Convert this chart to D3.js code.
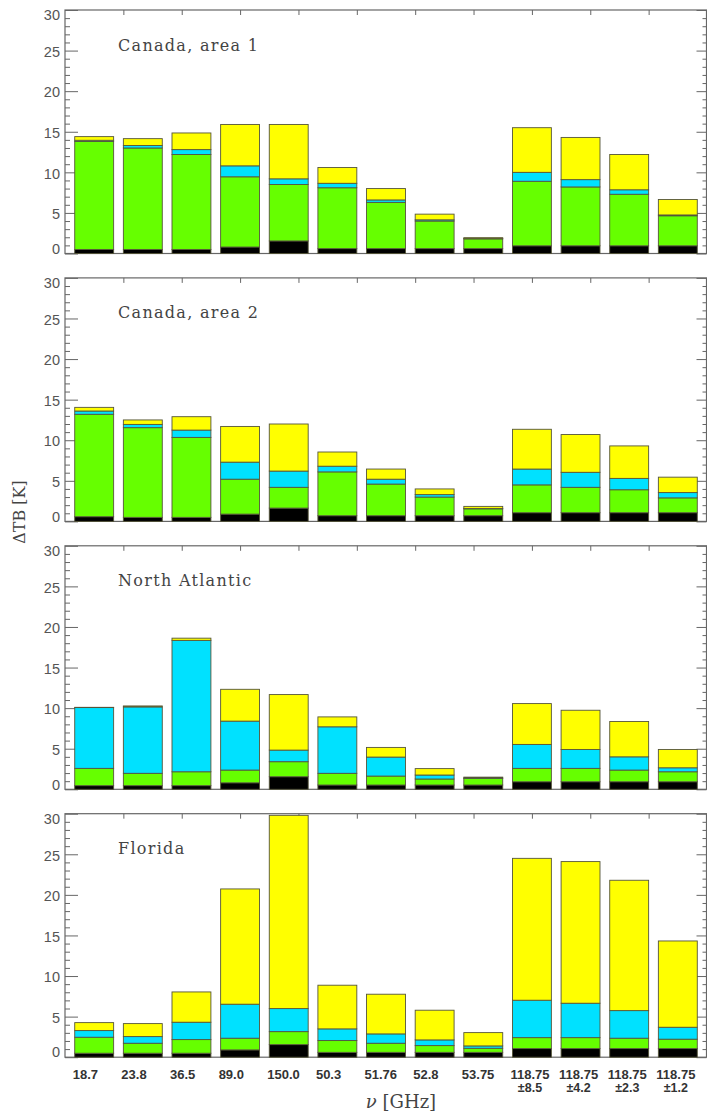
<!DOCTYPE html>
<html>
<head>
<meta charset="utf-8">
<script src="https://cdn.jsdelivr.net/npm/d3@7"></script>
<style>
  html, body { margin: 0; padding: 0; background: #fff; }
  svg { display: block; }
</style>
</head>
<body>
<svg id="chart" width="707" height="1113"></svg>
<script>
// ---------- DATA ----------
const channels = ["18.7", "23.8", "36.5", "89.0", "150.0", "50.3", "51.76", "52.8", "53.75",
                  "118.75\n±8.5", "118.75\n±4.2", "118.75\n±2.3", "118.75\n±1.2"];
const regions = ["Canada, area 1", "Canada, area 2", "North Atlantic", "Florida"];
const components = ["black", "green", "cyan", "yellow"];
const yTicks = [0, 5, 10, 15, 20, 25, 30];

// component contributions (K), stacked bottom to top
const canada1Black  = [0.5, 0.5, 0.5, 0.8, 1.55, 0.6, 0.6, 0.6, 0.6, 0.95, 0.95, 0.95, 0.95];
const canada1Green  = [13.3, 12.5, 11.7, 8.65, 6.95, 7.5, 5.7, 3.4, 1.2, 7.95, 7.25, 6.35, 3.7];
const canada1Cyan   = [0.15, 0.3, 0.6, 1.35, 0.7, 0.55, 0.3, 0.15, 0.05, 1.1, 0.9, 0.55, 0.1];
const canada1Yellow = [0.45, 0.85, 2.05, 5.1, 6.7, 1.95, 1.4, 0.7, 0.1, 5.5, 5.2, 4.35, 1.9];

const canada2Black  = [0.58, 0.5, 0.5, 0.9, 1.64, 0.7, 0.7, 0.7, 0.7, 1.07, 1.07, 1.07, 1.07];
const canada2Green  = [12.62, 11.05, 9.85, 4.3, 2.56, 5.4, 3.9, 2.3, 0.85, 3.43, 3.13, 2.83, 1.83];
const canada2Cyan   = [0.4, 0.4, 0.9, 2.1, 2.0, 0.7, 0.6, 0.3, 0.05, 1.95, 1.85, 1.4, 0.65];
const canada2Yellow = [0.45, 0.55, 1.65, 4.4, 5.8, 1.75, 1.25, 0.7, 0.25, 4.9, 4.65, 4.0, 1.9];

const atlanticBlack  = [0.45, 0.45, 0.45, 0.8, 1.55, 0.53, 0.53, 0.53, 0.53, 0.93, 0.93, 0.93, 0.93];
const atlanticGreen  = [2.13, 1.52, 1.71, 1.57, 1.85, 1.44, 1.1, 0.74, 0.82, 1.65, 1.65, 1.44, 1.23];
const atlanticCyan   = [7.49, 8.18, 16.19, 6.03, 1.43, 5.73, 2.34, 0.49, 0.05, 2.95, 2.33, 1.63, 0.49];
const atlanticYellow = [0.03, 0.12, 0.27, 3.92, 6.84, 1.22, 1.19, 0.79, 0.1, 5.03, 4.83, 4.35, 2.26];

const floridaBlack  = [0.49, 0.49, 0.49, 0.9, 1.55, 0.6, 0.6, 0.6, 0.6, 1.06, 1.06, 1.06, 1.06];
const floridaGreen  = [1.97, 1.23, 1.68, 1.44, 1.6, 1.45, 1.12, 0.83, 0.5, 1.35, 1.35, 1.28, 1.16];
const floridaCyan   = [0.82, 0.82, 2.14, 4.19, 2.84, 1.44, 1.15, 0.7, 0.29, 4.61, 4.24, 3.4, 1.47];
const floridaYellow = [0.98, 1.6, 3.73, 14.2, 23.81, 5.38, 4.89, 3.66, 1.64, 17.48, 17.45, 16.06, 10.63];

const panelSeries = [
  [canada1Black, canada1Green, canada1Cyan, canada1Yellow],
  [canada2Black, canada2Green, canada2Cyan, canada2Yellow],
  [atlanticBlack, atlanticGreen, atlanticCyan, atlanticYellow],
  [floridaBlack, floridaGreen, floridaCyan, floridaYellow]
];

// ---------- LAYOUT / STYLE ----------
const colors = { black: "#000000", green: "#66ff00", cyan: "#00e1ff", yellow: "#ffff00" };
const left = 65, right = 707;
const panelTop0 = 10, panelStep = 267.9, panelH = 243.5;
const axisColor = "#666";
const svg = d3.select("#chart");
svg.append("rect").attr("width", 707).attr("height", 1113).attr("fill", "#fff");

const x = d3.scaleLinear().domain([0, 13.2]).range([left, right]);
const xTopTicks = d3.range(1, 11).map(k => +(k * 1.2).toFixed(1));

regions.forEach((name, p) => {
  const top = panelTop0 + p * panelStep;
  const y = d3.scaleLinear().domain([0, 30]).range([top + panelH, top]);
  const g = svg.append("g");

  const rows = channels.map((c, i) => {
    const r = { i };
    components.forEach((k, j) => r[k] = panelSeries[p][j][i]);
    return r;
  });
  const stacked = d3.stack().keys(components)(rows);

  const minor = d3.range(0, 31, 1).filter(v => v % 5 !== 0);
  const leftMajor = d3.axisRight(y).tickValues(yTicks).tickSize(13).tickFormat("");
  const leftMinor = d3.axisRight(y).tickValues(minor).tickSize(5).tickFormat("");
  const rightMajor = d3.axisLeft(y).tickValues(yTicks).tickSize(10).tickFormat("");
  const rightMinor = d3.axisLeft(y).tickValues(minor).tickSize(4).tickFormat("");
  const topAxis = d3.axisBottom(x).tickValues(xTopTicks).tickSize(5).tickFormat("");

  [[leftMajor, left], [leftMinor, left], [rightMajor, right - 0.5], [rightMinor, right - 0.5]]
    .forEach(([ax, tx]) => {
      const a = g.append("g").attr("transform", `translate(${tx},0)`).call(ax);
      a.select(".domain").remove();
      a.selectAll("line").attr("stroke", axisColor).attr("stroke-width", 1);
    });
  const ta = g.append("g").attr("transform", `translate(0,${top})`).call(topAxis);
  ta.select(".domain").remove();
  ta.selectAll("line").attr("stroke", axisColor);

  g.append("rect")
    .attr("x", left).attr("y", top)
    .attr("width", right - left - 0.5).attr("height", panelH)
    .attr("fill", "none").attr("stroke", axisColor).attr("stroke-width", 1.2);

  g.selectAll("text.ytl").data(yTicks).join("text")
    .attr("class", "ytl")
    .attr("x", left - 5)
    .attr("y", d => y(d) + (d === 0 ? -5 : d === 30 ? 5 : 1))
    .attr("dy", "0.36em")
    .attr("text-anchor", "end")
    .attr("font-family", "Liberation Sans, Arial, sans-serif")
    .attr("font-size", 14.5)
    .attr("fill", "#555")
    .text(d => d);

  stacked.forEach(layer => {
    g.append("g").selectAll("rect").data(layer).join("rect")
      .attr("x", (d, i) => x(i + 0.2))
      .attr("width", x(0.8) - x(0))
      .attr("y", d => y(d[1]))
      .attr("height", d => Math.max(0, y(d[0]) - y(d[1])))
      .attr("fill", colors[layer.key])
      .attr("stroke", "#55553a")
      .attr("stroke-width", 0.9);
  });

  g.append("text")
    .attr("x", 118).attr("y", top + 40.5)
    .attr("font-family", "DejaVu Serif, serif")
    .attr("font-size", 16)
    .attr("letter-spacing", 1.3)
    .attr("fill", "#444")
    .text(name);

  if (p === regions.length - 1) {
    channels.forEach((c, i) => {
      const lines = c.split("\n");
      const t = svg.append("text")
        .attr("x", x(i + 0.2) - 2)
        .attr("y", top + panelH + 22)
        .attr("font-family", "Liberation Sans, Arial, sans-serif")
        .attr("font-size", 13)
        .attr("font-weight", "bold")
        .attr("fill", "#333")
        .text(lines[0]);
      if (lines[1]) {
        const w = t.node().getComputedTextLength();
        svg.append("text")
          .attr("x", x(i + 0.2) - 2 + w / 2)
          .attr("y", top + panelH + 35)
          .attr("text-anchor", "middle")
          .attr("font-family", "Liberation Sans, Arial, sans-serif")
          .attr("font-size", 12.5)
          .attr("font-weight", "bold")
          .attr("fill", "#333")
          .text(lines[1]);
      }
    });
  }
});

svg.append("text")
  .attr("transform", "translate(25,512) rotate(-90)")
  .attr("text-anchor", "middle")
  .attr("font-family", "DejaVu Serif, serif")
  .attr("font-size", 16)
  .attr("fill", "#444")
  .text("ΔTB [K]");

const xt = svg.append("text")
  .attr("x", 401).attr("y", 1108)
  .attr("text-anchor", "middle")
  .attr("font-family", "DejaVu Serif, serif")
  .attr("font-size", 18)
  .attr("fill", "#444");
xt.append("tspan").attr("font-style", "italic").text("ν");
xt.append("tspan").text(" [GHz]");
</script>
</body>
</html>
